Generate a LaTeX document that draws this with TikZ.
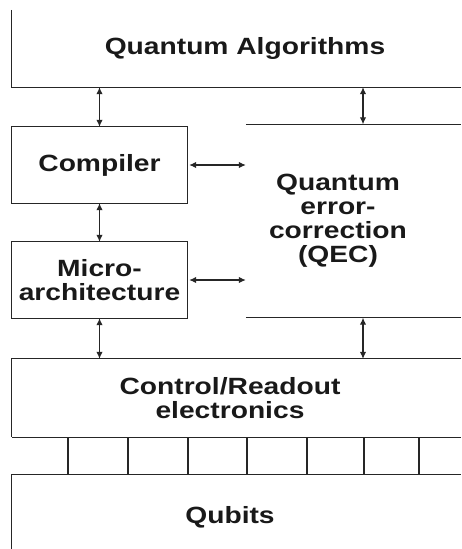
\documentclass[tikz,border=0pt]{standalone}
\usepackage{fontspec}
\setmainfont[FakeStretch=1.2]{Liberation Sans}
\usetikzlibrary{arrows.meta, positioning}

\begin{document}
\begin{tikzpicture}[x=1pt, y=-1pt, >={Latex[length=7pt, width=6.5pt]},
    font=\fontsize{23.5}{24}\selectfont\bfseries,
    layer/.style={inner sep=0pt, align=center, text=black!90},
    edge/.style={draw=black!85, line width=1.2pt}]

    \useasboundingbox (0,0) rectangle (461,549);
    \clip (0,0) rectangle (461,549);
    \coordinate (right) at (461,0);

    \node[layer, minimum width=466, minimum height=77] (algo) at (245,48.5) {Quantum Algorithms};
    \node[layer, minimum width=175, minimum height=76] (compiler) at (99.5,165) {Compiler};
    \node[layer, minimum width=175, minimum height=76] (micro) at (99.5,280) {Micro-\\architecture};
    \node[layer, minimum width=184, minimum height=193] (qec) at (338,221) {Quantum\\error-\\correction\\(QEC)};
    \node[layer, minimum width=436, minimum height=78] (ctrl) at (230,398) {Control/Readout\\electronics};
    \node[layer, minimum width=436, minimum height=84] (qubits) at (230,517) {Qubits};

    % open edges of the layers
    \draw[edge] (algo.north west) -- (algo.south west) -- (algo.south west -| right);
    \draw[edge] (compiler.north west) rectangle (compiler.south east);
    \draw[edge] (micro.north west) rectangle (micro.south east);
    \draw[edge] (qec.north west) -- (qec.north west -| right);
    \draw[edge] (qec.south west) -- (qec.south west -| right);
    \draw[edge] (ctrl.south west) -- (ctrl.north west) -- (ctrl.north west -| right);
    \draw[edge] (ctrl.south west) -- (ctrl.south west -| right);
    \draw[edge] (qubits.south west) -- (qubits.north west) -- (qubits.north west -| right);

    % arrows between layers
    \coordinate (qx) at (363,0);
    \draw[edge, <->] (algo.south -| compiler.north) -- (compiler.north);
    \draw[edge, <->] (qx |- algo.south) -- (qx |- qec.north);
    \draw[edge, <->] (compiler.south) -- (micro.north);
    \draw[edge, <->] (micro.south) -- (micro.south |- ctrl.north);
    \draw[edge, <->] (qx |- qec.south) -- (qx |- ctrl.north);
    \draw[edge, <->] ([xshift=2pt]compiler.east) -- (compiler.east -| qec.west);
    \draw[edge, <->] ([xshift=2pt]micro.east) -- (micro.east -| qec.west);

    % control lines to the qubits
    \foreach \x in {68,128,188,247,307,364,419}
        \draw[edge, line width=1.6pt] (\x,0 |- ctrl.south) -- (\x,0 |- qubits.north);

\end{tikzpicture}
\end{document}
